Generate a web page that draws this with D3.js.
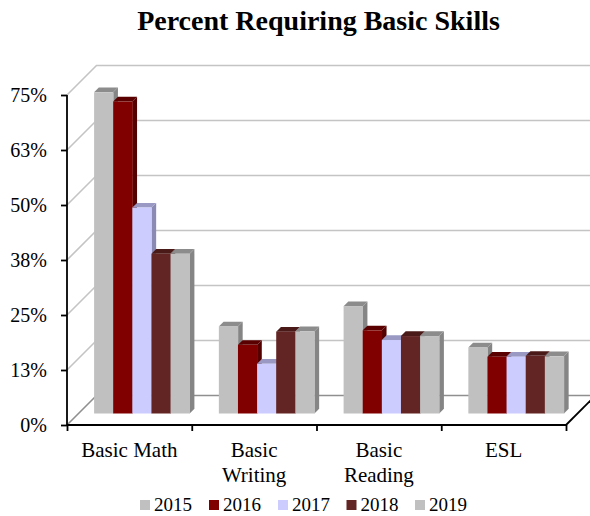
<!DOCTYPE html>
<html><head><meta charset="utf-8">
<script src="https://cdn.jsdelivr.net/npm/d3@7/dist/d3.min.js"></script>
<style>html,body{margin:0;padding:0;background:#fff}svg{display:block}text{font-family:"Liberation Serif",serif;fill:#000}</style>
</head><body><div id="c"></div>
<script>
const categories = [["Basic Math"],["Basic","Writing"],["Basic","Reading"],["ESL"]];
const years = ["2015","2016","2017","2018","2019"];
const v2015 = [73, 19.8, 24.4, 15];
const v2016 = [70.9, 15.6, 18.9, 12.9];
const v2017 = [46.8, 11.3, 16.7, 12.9];
const v2018 = [36.3, 18.6, 17.6, 13.1];
const v2019 = [36.3, 18.7, 17.6, 13];
const seriesValues = [v2015, v2016, v2017, v2018, v2019];
const colors = ["#c0c0c0","#800000","#ccccff","#632523","#c0c0c0"];
const tops = ["#8c8c8c","#5a0000","#9999c4","#4a1a18","#8c8c8c"];
const sides = ["#858585","#550000","#8a8ab5","#421614","#858585"];
const yTicks = [0,12.5,25,37.5,50,62.5,75];
const legendX = [140,209,278,346.5,415];
const W=590,H=516, depth=29.5, barDepth=11.5, barD=4.7;
const svg=d3.select("#c").append("svg").attr("width",W).attr("height",H);
const y=d3.scaleLinear().domain([0,75]).range([425,95]);
const x=d3.scaleLinear().domain([0,4]).range([67,566]);
const band=d3.scaleBand().domain(d3.range(categories.length)).range([67,566]).paddingInner(0).paddingOuter(0);
const inner=d3.scaleBand().domain(d3.range(years.length)).range([15.6,15.6+95.6]);

svg.append("text").attr("x",318.5).attr("y",30).attr("text-anchor","middle")
  .style("font-size","28px").style("font-weight","700").text("Percent Requiring Basic Skills");

// walls
const grid=svg.append("g").attr("fill","none").attr("stroke-width",1.6);
yTicks.forEach(t=>{
  const c=t===0?"#8f8f8f":"#c4c4c4";
  grid.append("path").attr("stroke",c)
    .attr("d",`M${x(0)},${y(t)}L${x(0)+depth},${y(t)-depth}L${x(4)+depth},${y(t)-depth}`);
});
svg.append("path").attr("fill","none").attr("stroke","#000").attr("stroke-width",1.8)
  .attr("d",`M${x(4)},${y(0)}L${x(4)+depth},${y(0)-depth}`);

// bars
seriesValues.forEach((vals,s)=>{
  const g=svg.append("g");
  const x0=i=>band(i)+inner(s)+barDepth;
  const y0=d=>y(d)-barDepth;
  const base=y(0)-barDepth, w=inner.bandwidth();
  vals.forEach((d,i)=>{
    const L=x0(i), T=y0(d), R=L+w;
    g.append("path").attr("fill",sides[s])
      .attr("d",`M${R},${T}L${R+barD},${T-barD}L${R+barD},${base-barD}L${R},${base}Z`);
    g.append("path").attr("fill",tops[s])
      .attr("d",`M${L},${T}L${L+barD},${T-barD}L${R+barD},${T-barD}L${R},${T}Z`);
    g.append("rect").attr("x",L).attr("y",T).attr("width",w+0.3).attr("height",base-T).attr("fill",colors[s]);
  });
});

// axes
const ay=svg.append("g").attr("transform",`translate(${x(0)},0)`)
  .call(d3.axisLeft(y).tickValues(yTicks).tickSize(6).tickPadding(14).tickFormat(d=>Math.round(d)+"%"));
ay.selectAll("path").attr("d",`M0,${y(75)}V${y(0)+1}`).attr("stroke","#000").attr("stroke-width",1.8);
ay.selectAll("line").attr("stroke","#000").attr("stroke-width",1.8);
ay.selectAll("text").style("font-size","20px").style("font-family",'"Liberation Serif",serif').attr("fill","#000");
const ax=svg.append("g").attr("transform",`translate(0,${y(0)})`)
  .call(d3.axisBottom(x).tickValues([0,1,2,3,4]).tickSize(6).tickFormat(""));
ax.selectAll("path").attr("d",`M${x(0)},0H${x(4)}`).attr("stroke","#000").attr("stroke-width",1.8);
ax.selectAll("line").attr("stroke","#000").attr("stroke-width",1.8);

categories.forEach((lines,i)=>{
  const t=svg.append("text").attr("text-anchor","middle").style("font-size","21px");
  lines.forEach((l,j)=>t.append("tspan").attr("x",band(i)+band.bandwidth()/2).attr("y",457+j*25).text(l));
});

// legend
const lx=d3.scaleOrdinal().domain(years).range(legendX);
years.forEach((yr,s)=>{
  svg.append("rect").attr("x",lx(yr)).attr("y",500).attr("width",10).attr("height",10).attr("fill",colors[s]);
  svg.append("text").attr("x",lx(yr)+14).attr("y",511).style("font-size","19px").text(yr);
});
</script></body></html>
